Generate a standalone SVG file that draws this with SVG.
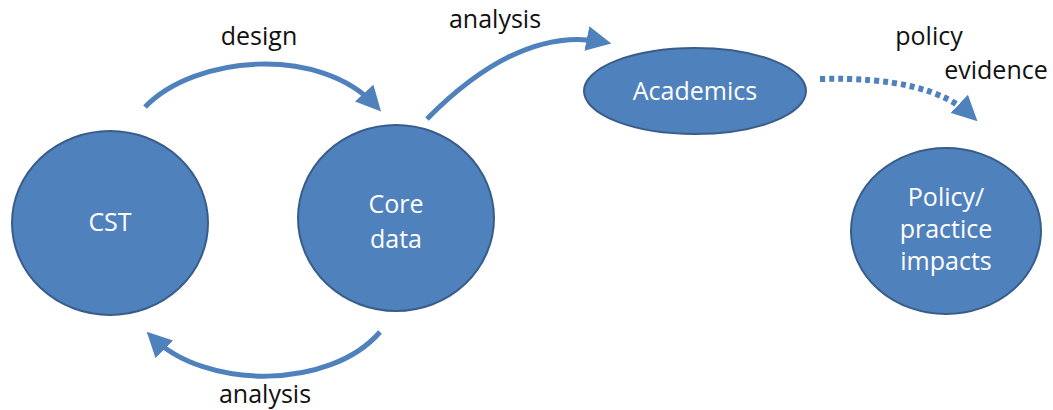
<svg xmlns="http://www.w3.org/2000/svg" width="1053" height="410" viewBox="0 0 1053 410">
<style>
.node{fill:#4F81BD;stroke:#385D8A;stroke-width:2}
.nt{font-family:"Open Sans","Liberation Sans",sans-serif;font-size:25px;fill:#fff;text-anchor:middle}
.lb{font-family:"Open Sans","Liberation Sans",sans-serif;font-size:25px;fill:#111;text-anchor:middle}
.conn{fill:none;stroke:#4F81BD;stroke-width:5}
.dot{fill:none;stroke:#4F81BD;stroke-width:6;stroke-dasharray:5 4}
</style>
<defs>
<marker id="ah" viewBox="0 0 10 10" refX="7" refY="5" markerWidth="5" markerHeight="5" orient="auto" markerUnits="strokeWidth">
<path d="M0,0 L10,5 L0,10 z" fill="#4F81BD"/>
</marker>
<marker id="ahd" viewBox="0 0 10 10" refX="7" refY="5" markerWidth="4.2" markerHeight="4.2" orient="auto" markerUnits="strokeWidth">
<path d="M0,0 L10,5 L0,10 z" fill="#4F81BD"/>
</marker>
</defs>
<g id="connectors">
<path class="conn" d="M145,107 C195,55 320,45 376,106" marker-end="url(#ah)"/>
<path class="conn" d="M427,119 Q520,25 604,42" marker-end="url(#ah)"/>
<path class="conn" d="M380,332 C330,390 205,390 152,337" marker-end="url(#ah)"/>
<path class="dot" d="M820,79 Q930,76 972,116" marker-end="url(#ahd)"/>
</g>
<g id="labels">
<text class="lb" x="259" y="45">design</text>
<text class="lb" x="495" y="28">analysis</text>
<text class="lb" x="929" y="45">policy</text>
<text class="lb" x="996" y="79">evidence</text>
<text class="lb" x="265" y="403">analysis</text>
</g>
<g id="cst">
<ellipse class="node" cx="110" cy="223" rx="98" ry="92"/>
<text class="nt" x="110" y="231">CST</text>
</g>
<g id="core">
<ellipse class="node" cx="396" cy="218" rx="98" ry="93"/>
<text class="nt" x="396" y="213">Core</text>
<text class="nt" x="396" y="248">data</text>
</g>
<g id="academics">
<ellipse class="node" cx="695" cy="91" rx="111" ry="43"/>
<text class="nt" x="695" y="100">Academics</text>
</g>
<g id="policy">
<ellipse class="node" cx="946" cy="231" rx="95" ry="83"/>
<text class="nt" x="946" y="206">Policy/</text>
<text class="nt" x="946" y="238">practice</text>
<text class="nt" x="946" y="270">impacts</text>
</g>
</svg>
